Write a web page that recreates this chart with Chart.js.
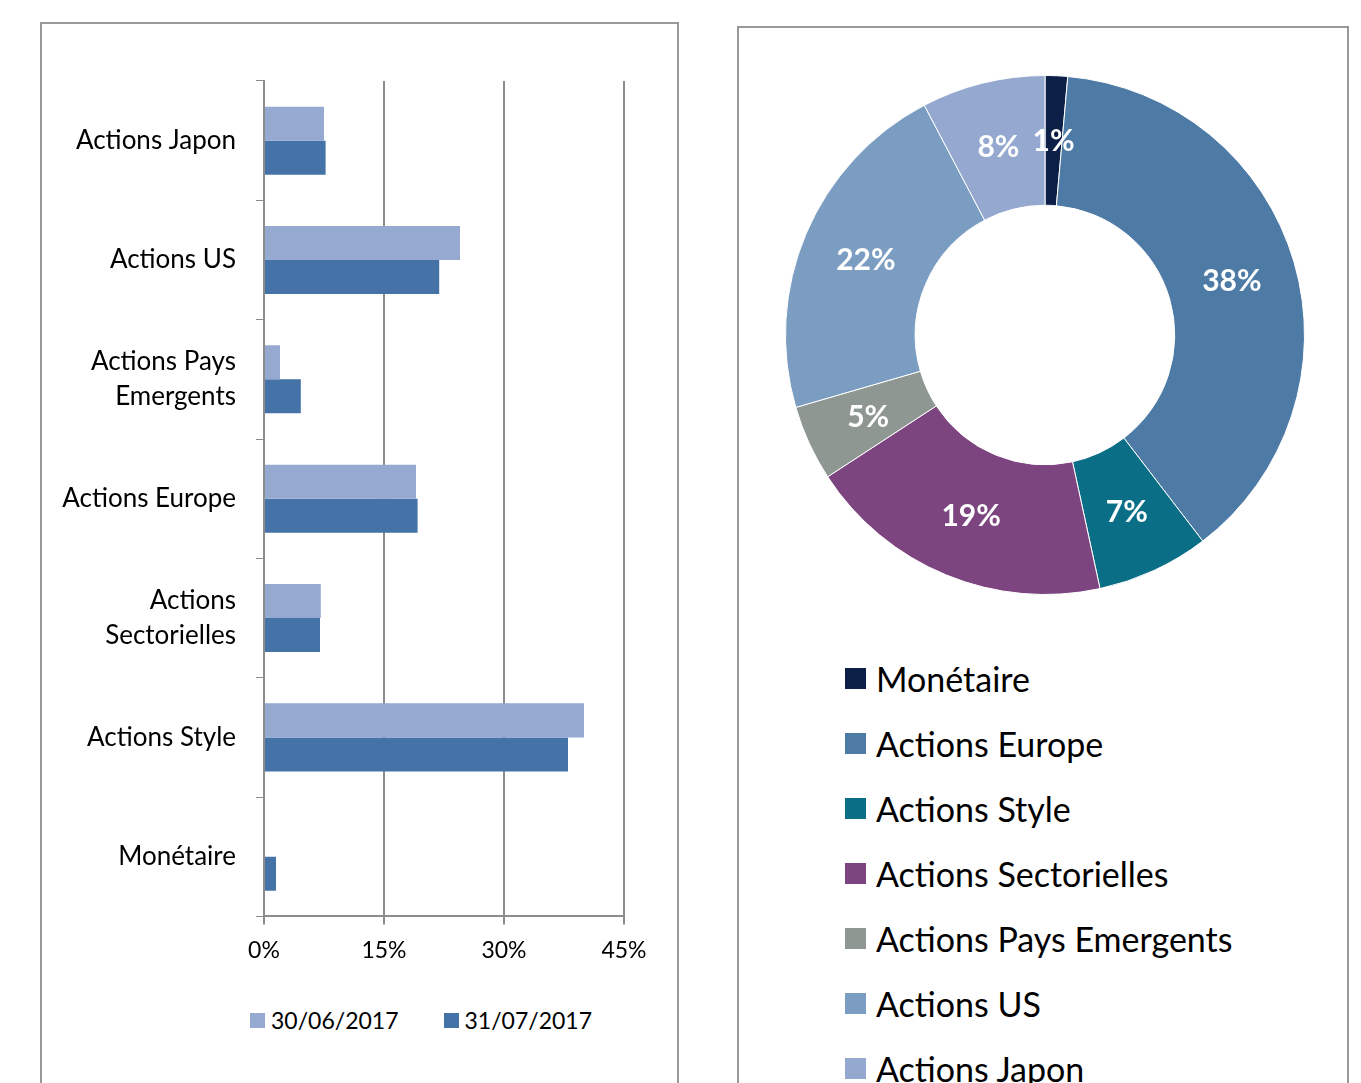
<!DOCTYPE html>
<html>
<head>
<meta charset="utf-8">
<script src="https://cdn.jsdelivr.net/npm/chart.js@4.4.1/dist/chart.umd.min.js"></script>
<style>
  body { margin: 0; background: #fff; font-family: Lato, sans-serif; }
  .panel { position: absolute; border: 2px solid #999; border-bottom: none; box-sizing: border-box; }
  #left { left: 40px; top: 22px; width: 639px; height: 1070px; }
  #right { left: 737px; top: 26px; width: 612px; height: 1070px; }
  #barWrap { position: absolute; left: 40px; top: 22px; width: 636px; height: 954px; }
  #barLegend { position: absolute; left: 250px; top: 1004px; display: flex; }
  #barLegend .item { font-size: 23px; height: 32px; margin-right: 45px; }
  #barLegend .sq { width: 15px; height: 15px; margin-right: 6px; }
  #pieWrap { position: absolute; left: 785px; top: 75px; width: 520px; height: 520px; }
  #pieLegend { position: absolute; left: 845px; top: 646px; }
  .item { height: 65px; display: flex; align-items: center; font-size: 34px; color: #000; }
  .sq { width: 21px; height: 21px; margin-right: 10px; }
</style>
</head>
<body>
<div class="panel" id="left"></div>
<div class="panel" id="right"></div>
<div id="barWrap"><canvas id="barChart"></canvas></div>
<div id="barLegend"></div>
<div id="pieWrap"><canvas id="pieChart"></canvas></div>
<div id="pieLegend"></div>
<script>
// bar chart data
const barLabels = ['Actions Japon', 'Actions US', ['Actions Pays', 'Emergents'], 'Actions Europe',
    ['Actions', 'Sectorielles'], 'Actions Style', 'Monétaire'];
const juneValues = [7.5, 24.5, 2.0, 19.0, 7.1, 40.0, 0];
const julyValues = [7.7, 21.9, 4.6, 19.2, 7.0, 38.0, 1.5];
const barSeries = ['30/06/2017', '31/07/2017'];
const barColors = ['#95A9D1', '#4573A7'];
const xTicks = [0, 15, 30, 45];

// donut data
const pieLabels = ['Monétaire', 'Actions Europe', 'Actions Style', 'Actions Sectorielles',
    'Actions Pays Emergents', 'Actions US', 'Actions Japon'];
const pieValues = [1.4, 38.2, 7.0, 19.2, 4.7, 21.8, 7.7];
const pieColors = ['#0C1F47', '#4E7BA6', '#0A6F86', '#7D4580', '#8E9791', '#7A9DC1', '#95A9D0'];

const gridColor = '#8c8c8c';

new Chart(document.getElementById('barChart'), {
    type: 'bar',
    data: {
        labels: barLabels,
        datasets: [
            {label: barSeries[0], data: juneValues, backgroundColor: barColors[0]},
            {label: barSeries[1], data: julyValues, backgroundColor: barColors[1]}
        ]
    },
    options: {
        indexAxis: 'y',
        responsive: true, maintainAspectRatio: false,
        animation: false,
        categoryPercentage: 0.57, barPercentage: 1,
        layout: {padding: {top: 59, right: 52, bottom: 0}},
        scales: {
            y: {
                afterFit: (s) => { s.width = 224; },
                grid: {drawOnChartArea: false, offset: true, tickLength: 8, color: gridColor},
                border: {color: gridColor, width: 2},
                ticks: {color: '#000', padding: 20, font: {family: 'Lato', size: 26, lineHeight: 1.35}}
            },
            x: {
                min: 0, max: 45,
                afterBuildTicks: (s) => { s.ticks = xTicks.map(v => ({value: v})); },
                grid: {color: gridColor, lineWidth: 2, tickLength: 8},
                border: {color: gridColor, width: 2},
                ticks: {color: '#000', padding: 12, font: {family: 'Lato', size: 23},
                    callback: (v) => v + '%'}
            }
        },
        plugins: {tooltip: {enabled: false}, legend: {display: false}}
    }
});

const sliceLabels = {
    id: 'sliceLabels',
    afterDatasetsDraw(chart) {
        const ctx = chart.ctx;
        const meta = chart.getDatasetMeta(0);
        ctx.save();
        ctx.fillStyle = '#fff';
        ctx.font = 'bold 30px Lato';
        ctx.textAlign = 'center';
        ctx.textBaseline = 'middle';
        meta.data.forEach((arc, i) => {
            const p = arc.tooltipPosition();
            ctx.fillText(Math.round(pieValues[i]) + '%', p.x, p.y + 1);
        });
        ctx.restore();
    }
};

new Chart(document.getElementById('pieChart'), {
    type: 'doughnut',
    data: {
        labels: pieLabels,
        datasets: [{data: pieValues, backgroundColor: pieColors, borderColor: '#fff', borderWidth: 1}]
    },
    options: {
        responsive: true, maintainAspectRatio: false,
        animation: false,
        cutout: '50%',
        plugins: {legend: {display: false}, tooltip: {enabled: false}}
    },
    plugins: [sliceLabels]
});

function buildLegend(el, names, colors) {
    names.forEach((name, i) => {
        const row = document.createElement('div');
        row.className = 'item';
        row.innerHTML = '<span class="sq" style="background:' + colors[i] + '"></span>' + name;
        el.appendChild(row);
    });
}
buildLegend(document.getElementById('barLegend'), barSeries, barColors);
buildLegend(document.getElementById('pieLegend'), pieLabels, pieColors);
</script>
</body>
</html>
